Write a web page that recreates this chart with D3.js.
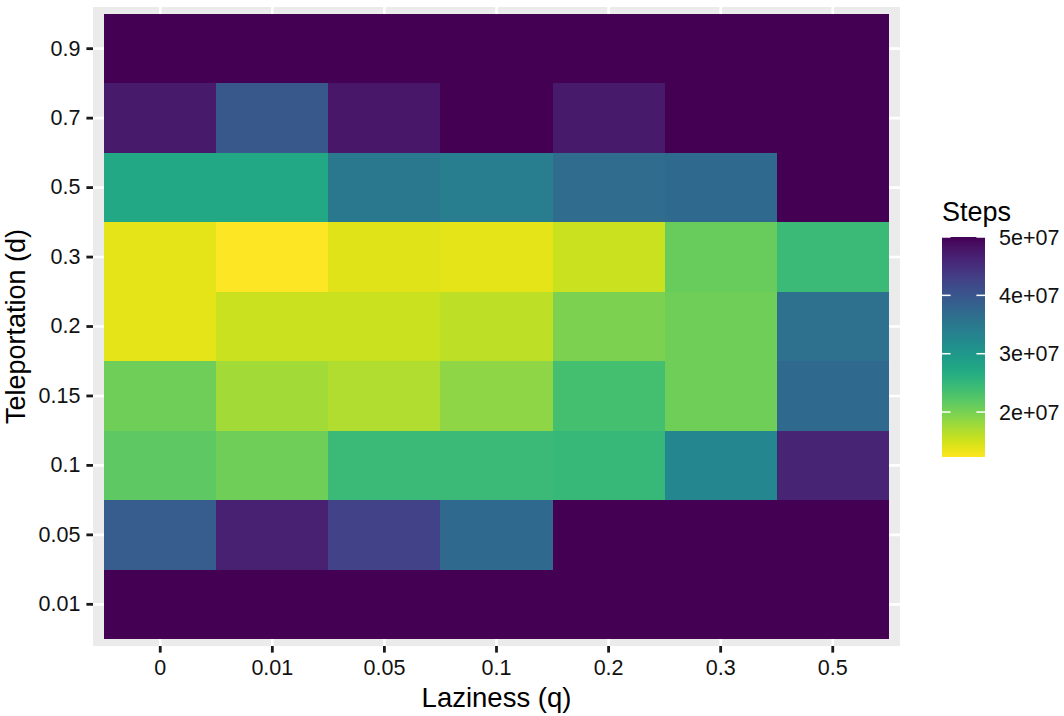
<!DOCTYPE html>
<html>
<head>
<meta charset="utf-8">
<script src="https://cdn.jsdelivr.net/npm/d3@7"></script>
<style>
html, body { margin: 0; padding: 0; background: #ffffff; }
svg { display: block; font-family: "Liberation Sans", Arial, sans-serif; }
</style>
</head>
<body>
<svg id="chart" width="1064" height="716"></svg>
<script>
// ---- data ----
const laziness = ["0", "0.01", "0.05", "0.1", "0.2", "0.3", "0.5"];
const teleportation = ["0.01", "0.05", "0.1", "0.15", "0.2", "0.3", "0.5", "0.7", "0.9"];
// steps per row (teleportation), columns follow laziness order
const steps_d001 = [5.0e7, 5.0e7, 5.0e7, 5.0e7, 5.0e7, 5.0e7, 5.0e7];
const steps_d005 = [3.91e7, 4.66e7, 4.25e7, 3.72e7, 5.0e7, 5.0e7, 5.0e7];
const steps_d010 = [2.17e7, 2.06e7, 2.44e7, 2.44e7, 2.47e7, 3.27e7, 4.62e7];
const steps_d015 = [2.06e7, 1.76e7, 1.68e7, 1.87e7, 2.36e7, 2.06e7, 3.72e7];
const steps_d020 = [1.38e7, 1.53e7, 1.53e7, 1.61e7, 1.98e7, 2.06e7, 3.61e7];
const steps_d030 = [1.38e7, 1.23e7, 1.42e7, 1.38e7, 1.53e7, 2.10e7, 2.44e7];
const steps_d050 = [2.74e7, 2.74e7, 3.49e7, 3.42e7, 3.68e7, 3.72e7, 5.0e7];
const steps_d070 = [4.74e7, 3.98e7, 4.77e7, 5.0e7, 4.74e7, 5.0e7, 5.0e7];
const steps_d090 = [5.0e7, 5.0e7, 5.0e7, 5.0e7, 5.0e7, 5.0e7, 5.0e7];
const legendTicks = [2e7, 3e7, 4e7, 5e7];
const legendLabels = ["2e+07", "3e+07", "4e+07", "5e+07"];

const rows = [steps_d001, steps_d005, steps_d010, steps_d015, steps_d020, steps_d030, steps_d050, steps_d070, steps_d090];
const cells = [];
teleportation.forEach((d, i) => {
  laziness.forEach((q, j) => cells.push({ d: d, q: q, v: rows[i][j] }));
});

// ---- layout ----
const svg = d3.select("#chart");
const panel = { x0: 93, x1: 900, y0: 7, y1: 646 };

const x = d3.scaleBand().domain(laziness).range([panel.x0, panel.x1]).paddingInner(0).paddingOuter(0.1);
const y = d3.scaleBand().domain(teleportation).range([panel.y1, panel.y0]).paddingInner(0).paddingOuter(0.1);

const vmin = d3.min(cells, c => c.v), vmax = d3.max(cells, c => c.v);
const tScale = d3.scaleLinear().domain([vmax, vmin]).range([0, 1]);
const color = v => d3.interpolateViridis(tScale(v));

// panel background
svg.append("rect").attr("x", panel.x0).attr("y", panel.y0)
  .attr("width", panel.x1 - panel.x0).attr("height", panel.y1 - panel.y0)
  .attr("fill", "#EBEBEB");

// gridlines
const grid = svg.append("g");
laziness.forEach(q => {
  const cx = x(q) + x.bandwidth() / 2;
  grid.append("line").attr("x1", cx).attr("x2", cx).attr("y1", panel.y0).attr("y2", panel.y1)
    .attr("stroke", "#fff").attr("stroke-width", 2.6);
});
teleportation.forEach(d => {
  const cy = y(d) + y.bandwidth() / 2;
  grid.append("line").attr("x1", panel.x0).attr("x2", panel.x1).attr("y1", cy).attr("y2", cy)
    .attr("stroke", "#fff").attr("stroke-width", 2.6);
});

// tiles
svg.append("g").attr("shape-rendering", "crispEdges").selectAll("rect").data(cells).join("rect")
  .attr("x", c => x(c.q)).attr("y", c => y(c.d))
  .attr("width", x.bandwidth()).attr("height", y.bandwidth())
  .attr("fill", c => color(c.v));

// axes
const xAxis = svg.append("g").attr("transform", `translate(0,${panel.y1})`)
  .call(d3.axisBottom(x).tickSize(6.6).tickPadding(5));
const yAxis = svg.append("g").attr("transform", `translate(${panel.x0},0)`)
  .call(d3.axisLeft(y).tickSize(6.6).tickPadding(6));
[xAxis, yAxis].forEach(a => {
  a.select(".domain").remove();
  a.selectAll(".tick line").attr("stroke", "#1a1a1a").attr("stroke-width", 2.8);
  a.selectAll(".tick text").attr("fill", "#111").style("font-size", "21.5px")
    .style("font-family", "'Liberation Sans', Arial, sans-serif");
});
xAxis.selectAll(".tick text").attr("dy", "0.83em");

// axis titles
svg.append("text").attr("x", (panel.x0 + panel.x1) / 2).attr("y", 707)
  .attr("text-anchor", "middle").style("font-size", "27.5px").attr("fill", "#000")
  .text("Laziness (q)");
svg.append("text").attr("transform", `translate(25,${(panel.y0 + panel.y1) / 2}) rotate(-90)`)
  .attr("text-anchor", "middle").style("font-size", "27px").attr("fill", "#000")
  .text("Teleportation (d)");

// legend
const lg = { x: 942, w: 43, top: 237, bottom: 457 };
svg.append("text").attr("x", lg.x).attr("y", 221).style("font-size", "27px").attr("fill", "#000").text("Steps");
const defs = svg.append("defs");
const grad = defs.append("linearGradient").attr("id", "vgrad")
  .attr("x1", 0).attr("x2", 0).attr("y1", 0).attr("y2", 1);
d3.range(0, 1.0001, 0.02).forEach(t => {
  grad.append("stop").attr("offset", t).attr("stop-color", d3.interpolateViridis(t));
});
svg.append("rect").attr("x", lg.x).attr("y", lg.top).attr("width", lg.w).attr("height", lg.bottom - lg.top)
  .attr("fill", "url(#vgrad)");
const ly = d3.scaleLinear().domain([vmin, vmax]).range([lg.bottom, lg.top]);
legendTicks.forEach((t, i) => {
  const yy = ly(t);
  svg.append("line").attr("x1", lg.x).attr("x2", lg.x + lg.w / 5).attr("y1", yy).attr("y2", yy)
    .attr("stroke", "#fff").attr("stroke-width", 1.5);
  svg.append("line").attr("x1", lg.x + lg.w - lg.w / 5).attr("x2", lg.x + lg.w).attr("y1", yy).attr("y2", yy)
    .attr("stroke", "#fff").attr("stroke-width", 1.5);
  svg.append("text").attr("x", 999).attr("y", yy).attr("dy", "0.35em")
    .style("font-size", "21.5px").attr("fill", "#111").text(legendLabels[i]);
});
</script>
</body>
</html>
